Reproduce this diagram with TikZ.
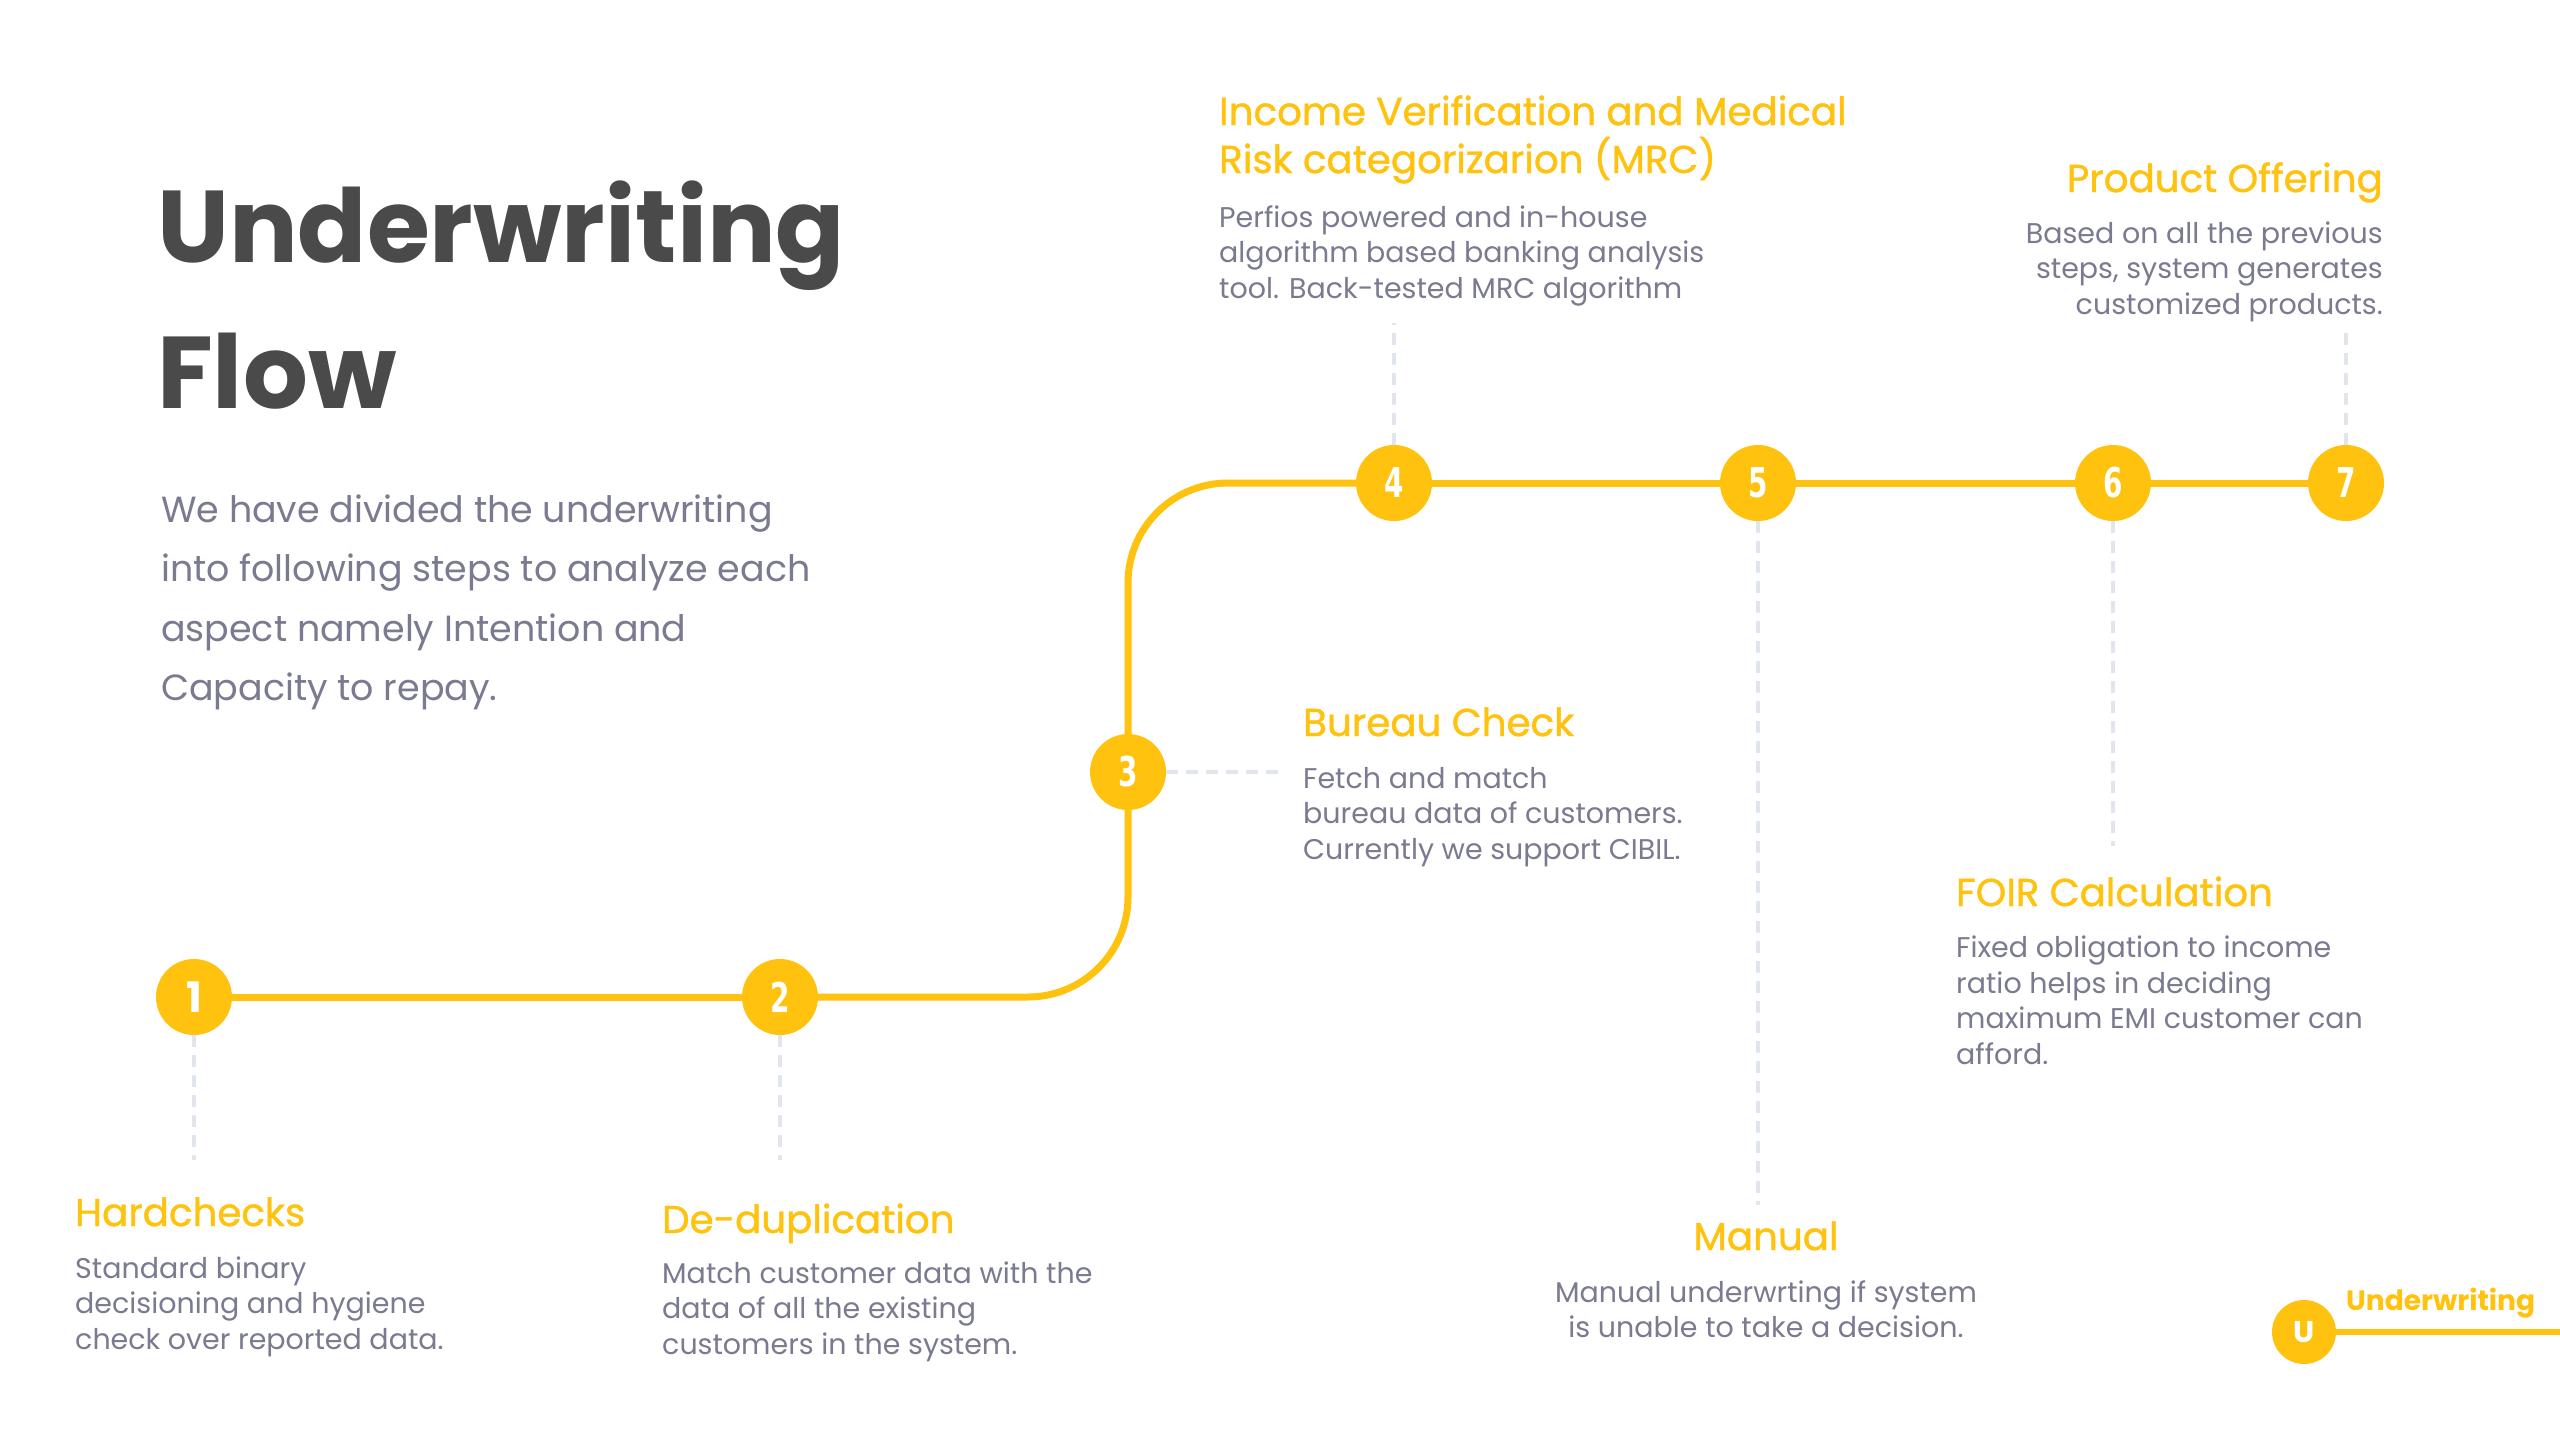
\documentclass[tikz,border=0pt]{standalone}
\usepackage{fontspec}
\setmainfont{Poppins}
\usepackage{graphicx}
\definecolor{uy}{HTML}{FFC20E}
\definecolor{ugrey}{HTML}{7A7A90}
\definecolor{utitle}{HTML}{4A4A4A}
\definecolor{udash}{HTML}{E1E5EE}
\newfontfamily\numfont{DejaVu Sans}
\newfontfamily\headfont{Poppins}[FakeBold=1.1]
\tikzset{
  stepdot/.style={circle, fill=uy, minimum size=76pt, inner sep=0pt, text=white,
    font=\numfont\bfseries\fontsize{41}{41}\selectfont},
  flowline/.style={draw=uy, line width=7pt},
  guide/.style={draw=udash, line width=4pt, dash pattern=on 12pt off 8pt},
  headtxt/.style={text=uy, font=\headfont\fontsize{38.8}{48}\selectfont, inner sep=0pt},
  bodytxt/.style={text=ugrey, font=\fontsize{28.5}{35.5}\selectfont, inner sep=0pt},
}
\begin{document}
\begin{tikzpicture}[x=1pt,y=-1pt]
\useasboundingbox[fill=white] (0,0) rectangle (2560,1440);

% title and intro (base anchor = baseline of last line)
\node[anchor=base west, inner sep=0pt, text=utitle, align=left,
      font=\bfseries\fontsize{102}{146}\selectfont] (title) at (157,408) {Underwriting\\Flow};
\node[anchor=base west, inner sep=0pt, text=ugrey, align=left,
      font=\fontsize{36.4}{59.5}\selectfont] (intro) at (161,700.5)
  {We have divided the underwriting\\into following steps to analyze each\\aspect namely Intention and\\Capacity to repay.};

% step circles
\node[stepdot, font=\bfseries\fontsize{42}{42}\selectfont] (c1) at (194,997) {1};
\node[stepdot] (c2) at (780,997) {\scalebox{0.68}[1]{2}};
\node[stepdot] (c3) at (1128,772) {\scalebox{0.68}[1]{3}};
\node[stepdot] (c4) at (1394,483) {\scalebox{0.68}[1]{4}};
\node[stepdot] (c5) at (1758,483) {\scalebox{0.68}[1]{5}};
\node[stepdot] (c6) at (2113,483) {\scalebox{0.68}[1]{6}};
\node[stepdot] (c7) at (2346,483) {\scalebox{0.68}[1]{7}};

% flow line
\draw[flowline] (c1) -- (c2);
\draw[flowline, rounded corners=100pt] (c2) -| (c3);
\draw[flowline, rounded corners=100pt] (c3) |- (c4);
\draw[flowline] (c4) -- (c5);
\draw[flowline] (c5) -- (c6);
\draw[flowline] (c6) -- (c7);

% guide lines
\coordinate (g1) at (194,1160);
\coordinate (g2) at (780,1160);
\coordinate (g3) at (1282,772);
\coordinate (g4) at (1394,323);
\coordinate (g5) at (1758,1205);
\coordinate (g6) at (2113,846);
\coordinate (g7) at (2346,327);
\draw[guide] (c1) -- (g1);
\draw[guide] (c2) -- (g2);
\draw[guide] (c3) -- (g3);
\draw[guide] (c4) -- (g4);
\draw[guide] (c5) -- (g5);
\draw[guide] (c6) -- (g6);
\draw[guide] (c7) -- (g7);

% step texts
\node[headtxt, anchor=base west] (h1) at (75,1226) {Hardchecks};
\node[bodytxt, anchor=base west, align=left] (b1) at (75,1349)
  {Standard binary\\decisioning and hygiene\\check over reported data.};

\node[headtxt, anchor=base west] (h2) at (662,1233) {De-duplication};
\node[bodytxt, anchor=base west, align=left] (b2) at (662,1354)
  {Match customer data with the\\data of all the existing\\customers in the system.};

\node[headtxt, anchor=base west] (h3) at (1303,736) {Bureau Check};
\node[bodytxt, anchor=base west, align=left] (b3) at (1303,859)
  {Fetch and match\\bureau data of customers.\\Currently we support CIBIL.};

\node[headtxt, anchor=base west, align=left] (h4) at (1219,173)
  {Income Verification and Medical\\Risk categorizarion (MRC)};
\node[bodytxt, anchor=base west, align=left] (b4) at (1219,298)
  {Perfios powered and in-house\\algorithm based banking analysis\\tool. Back-tested MRC algorithm};

\node[headtxt, anchor=base] (h5) at (1766,1250) {Manual};
\node[bodytxt, anchor=base, align=center] (b5) at (1766,1337.5)
  {Manual underwrting if system\\is unable to take a decision.};

\node[headtxt, anchor=base west] (h6) at (1956,906) {FOIR Calculation};
\node[bodytxt, anchor=base west, align=left] (b6) at (1956,1064)
  {Fixed obligation to income\\ratio helps in deciding\\maximum EMI customer can\\afford.};

\node[headtxt, anchor=base east] (h7) at (2383,192) {Product Offering};
\node[bodytxt, anchor=base east, align=right] (b7) at (2383,314)
  {Based on all the previous\\steps, system generates\\customized products.};

% logo
\node[circle, fill=uy, minimum size=64pt, inner sep=0pt, text=white,
      font=\bfseries\fontsize{30}{30}\selectfont] (ulogo) at (2304,1332) {U};
\coordinate (uend) at (2560,1332);
\draw[draw=uy, line width=6pt] (ulogo) -- (uend);
\node[anchor=base west, inner sep=0pt, text=uy,
      font=\bfseries\fontsize{28}{28}\selectfont] (ulabel) at (2346,1310) {Underwriting};
\end{tikzpicture}
\end{document}
